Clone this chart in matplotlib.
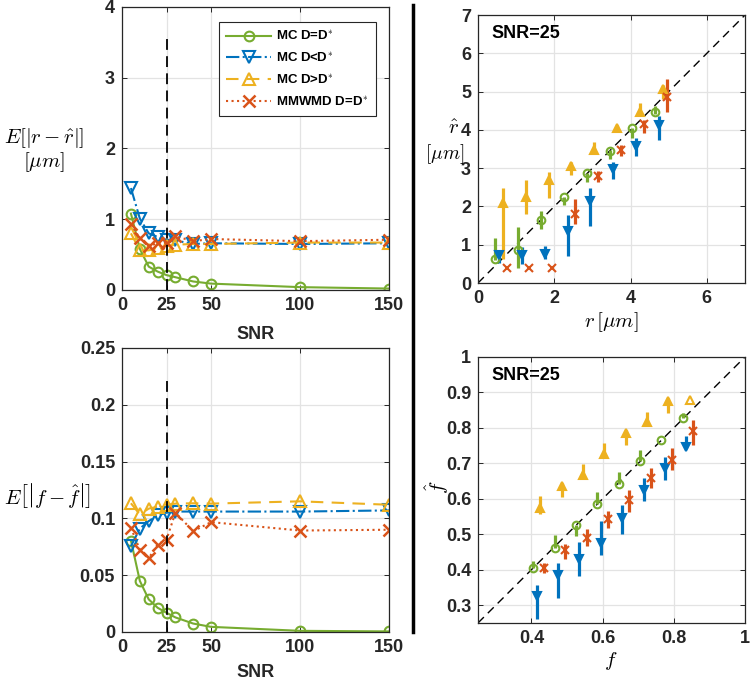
import matplotlib
matplotlib.use("Agg")
import matplotlib.pyplot as plt
from matplotlib.lines import Line2D
import numpy as np

plt.rcParams['font.family'] = ['Arial', 'Liberation Sans', 'DejaVu Sans']
plt.rcParams['mathtext.fontset'] = 'cm'

# ---------------- data ----------------
snr = [5, 10, 15, 20, 25, 30, 40, 50, 100, 150]
snr_mark = 25

# E[|r - r_hat|]
r_err_mc = [1.08, 0.58, 0.33, 0.26, 0.21, 0.18, 0.12, 0.09, 0.04, 0.02]
r_err_mc_lo = [1.44, 1.01, 0.80, 0.75, 0.71, 0.70, 0.65, 0.66, 0.65, 0.66]
r_err_mc_hi = [0.80, 0.56, 0.56, 0.59, 0.62, 0.64, 0.65, 0.65, 0.67, 0.67]
r_err_mmwmd = [0.93, 0.73, 0.62, 0.66, 0.67, 0.76, 0.69, 0.72, 0.69, 0.71]

# E[|f - f_hat|]
f_err_mc = [0.0805, 0.045, 0.0287, 0.0213, 0.0169, 0.0128, 0.0074, 0.0045, 0.0010, 0.0005]
f_err_mc_lo = [0.0755, 0.091, 0.0976, 0.1027, 0.105, 0.106, 0.106, 0.106, 0.106, 0.107]
f_err_mc_hi = [0.1133, 0.1035, 0.1086, 0.1103, 0.112, 0.113, 0.1133, 0.113, 0.115, 0.112]
f_err_mmwmd = [0.0917, 0.0725, 0.065, 0.077, 0.0814, 0.105, 0.0887, 0.0967, 0.0893, 0.090]

# r vs r_hat at SNR=25 (marker value, lower end, upper end of bar)
r_green = [0.45, 1.05, 1.65, 2.25, 2.85, 3.45, 4.05, 4.65]
rh_green = [0.63, 0.86, 1.65, 2.26, 2.88, 3.46, 4.06, 4.47]
rh_green_lo = [0.60, 0.40, 1.42, 2.04, 2.63, 3.24, 3.80, 4.41]
rh_green_hi = [1.17, 1.46, 1.88, 2.26, 2.88, 3.47, 4.06, 4.63]

r_blue = [0.55, 1.15, 1.75, 2.35, 2.95, 3.55, 4.15, 4.75]
rh_blue = [0.72, 0.73, 0.76, 1.37, 2.15, 2.97, 3.57, 4.14]
rh_blue_lo = [0.52, 0.49, 0.62, 0.71, 1.50, 2.73, 3.32, 3.73]
rh_blue_hi = [0.82, 0.93, 0.96, 1.77, 2.48, 3.17, 3.78, 4.36]

r_yellow = [0.65, 1.25, 1.85, 2.45, 3.05, 3.65, 4.25, 4.85]
rh_yellow = [2.08, 2.26, 2.68, 3.05, 3.48, 4.04, 4.47, 5.06]
rh_yellow_lo = [0.62, 1.81, 2.23, 2.83, 3.45, 3.95, 4.43, 4.82]
rh_yellow_hi = [2.48, 2.68, 2.89, 3.16, 3.68, 4.13, 4.69, 5.17]

r_red = [0.75, 1.35, 1.95, 2.55, 3.15, 3.75, 4.35, 4.95]
rh_red = [0.38, 0.38, 0.38, 1.81, 2.80, 3.47, 4.15, 4.85]
rh_red_lo = [0.38, 0.38, 0.38, 1.53, 2.65, 3.32, 3.91, 4.47]
rh_red_hi = [0.38, 0.38, 0.38, 2.19, 2.92, 3.60, 4.27, 5.32]

# f vs f_hat at SNR=25
f_green = [0.405, 0.465, 0.525, 0.585, 0.645, 0.705, 0.765, 0.825]
fh_green = [0.405, 0.461, 0.525, 0.586, 0.642, 0.707, 0.766, 0.827]
fh_green_lo = [0.405, 0.461, 0.494, 0.586, 0.642, 0.707, 0.766, 0.827]
fh_green_hi = [0.424, 0.499, 0.525, 0.618, 0.677, 0.738, 0.766, 0.841]

f_blue = [0.415, 0.475, 0.535, 0.595, 0.655, 0.715, 0.775, 0.835]
fh_blue = [0.325, 0.386, 0.429, 0.475, 0.546, 0.625, 0.686, 0.745]
fh_blue_lo = [0.262, 0.321, 0.382, 0.443, 0.502, 0.593, 0.653, 0.743]
fh_blue_hi = [0.358, 0.419, 0.477, 0.538, 0.583, 0.658, 0.717, 0.777]

f_yellow = [0.425, 0.485, 0.545, 0.605, 0.665, 0.725, 0.785, 0.845]
fh_yellow = [0.574, 0.635, 0.667, 0.727, 0.785, 0.817, 0.875, 0.878]
fh_yellow_lo = [0.558, 0.605, 0.658, 0.719, 0.752, 0.808, 0.843, 0.878]
fh_yellow_hi = [0.609, 0.644, 0.698, 0.757, 0.794, 0.846, 0.883, 0.878]

f_red = [0.435, 0.495, 0.555, 0.615, 0.675, 0.735, 0.795, 0.855]
fh_red = [0.405, 0.455, 0.490, 0.543, 0.597, 0.658, 0.710, 0.791]
fh_red_lo = [0.391, 0.431, 0.466, 0.518, 0.564, 0.630, 0.682, 0.752]
fh_red_hi = [0.419, 0.473, 0.515, 0.567, 0.624, 0.686, 0.743, 0.822]

labels = ['MC D=D$^{*}$', 'MC D<D$^{*}$', 'MC D>D$^{*}$', 'MMWMD D=D$^{*}$']

# ---------------- style ----------------
C_G = '#77AC30'
C_B = '#0072BD'
C_Y = '#EDB120'
C_R = '#D95319'
AX_C = '#262626'
GRID_C = '#e3e3e3'
TICK_FS = 13
MATH_FS = 15

fig = plt.figure(figsize=(7.5, 6.81), dpi=100)

def style_axes(ax):
    for s in ax.spines.values():
        s.set_color(AX_C)
        s.set_linewidth(0.9)
    ax.tick_params(direction='in', length=3.5, width=0.7, colors=AX_C,
                   labelsize=TICK_FS, top=True, right=True, pad=5)
    for lab in ax.get_xticklabels() + ax.get_yticklabels():
        lab.set_fontweight('bold')
        lab.set_color(AX_C)
    ax.grid(True, color=GRID_C, linewidth=0.9)
    ax.set_axisbelow(True)

ax1 = fig.add_axes([0.1627, 0.5742, 0.356, 0.4156])
ax2 = fig.add_axes([0.1627, 0.0720, 0.356, 0.4170])
ax3 = fig.add_axes([0.6373, 0.5844, 0.356, 0.3935])
ax4 = fig.add_axes([0.6373, 0.0852, 0.356, 0.3906])

def left_panel(ax, g, b, y, r, ylim, yticks, yticklabels, pad):
    ax.plot(snr, g, '-', color=C_G, lw=1.5, marker='o', ms=7, mfc='none', mew=1.5, label=labels[0])
    ax.plot(snr, b, '-.', color=C_B, lw=1.5, marker='v', ms=8, mfc='none', mew=1.5, label=labels[1])
    ax.plot(snr, y, '--', color=C_Y, lw=1.5, marker='^', ms=8, mfc='none', mew=1.5, label=labels[2],
            dashes=(6, 4))
    ax.plot(snr, r, ':', color=C_R, lw=1.5, marker='x', ms=8, mew=1.8, label=labels[3])
    ax.plot([snr_mark, snr_mark], [0, ylim[1] * 0.9], color='k', lw=1.3, dashes=(6, 3.5))
    ax.set_xlim(0, 150)
    ax.set_ylim(*ylim)
    ax.set_xticks([0, 25, 50, 100, 150])
    ax.set_yticks(yticks)
    ax.set_yticklabels(yticklabels)
    ax.set_xlabel('SNR', fontsize=13, fontweight='bold', color=AX_C, labelpad=pad)
    style_axes(ax)

left_panel(ax1, r_err_mc, r_err_mc_lo, r_err_mc_hi, r_err_mmwmd, (0, 4),
           [0, 1, 2, 3, 4], ['0', '1', '2', '3', '4'], 9)
left_panel(ax2, f_err_mc, f_err_mc_lo, f_err_mc_hi, f_err_mmwmd, (0, 0.25),
           [0, 0.05, 0.1, 0.15, 0.2, 0.25], ['0', '0.05', '0.1', '0.15', '0.2', '0.25'], 6)

leg = ax1.legend(loc='upper right', bbox_to_anchor=(0.951, 0.947), borderaxespad=0,
                 prop={'weight': 'bold', 'size': 9.5}, handlelength=3.4, fancybox=False,
                 framealpha=1, edgecolor=AX_C, borderpad=0.55, labelspacing=0.6,
                 handletextpad=0.4)
leg.get_frame().set_linewidth(0.8)

def right_panel(ax, sets, lim):
    ax.plot(lim, lim, color='k', lw=1.0, dashes=(6, 4), zorder=1)
    for xs, ys, lo, hi, col, mk, filled in sets:
        ax.vlines(xs, lo, hi, color=col, lw=2.3, zorder=2)
        ax.plot(xs, ys, linestyle='none', marker=mk, color=col, ms=5.5,
                mfc=(col if filled else 'none'), mew=1.5, zorder=3)
    ax.set_xlim(*lim)
    ax.set_ylim(*lim)
    ax.text(0.05, 0.93, 'SNR=25', transform=ax.transAxes, fontsize=13, fontweight='bold',
            color='k', va='center', ha='left')

right_panel(ax3, [
    (r_green, rh_green, rh_green_lo, rh_green_hi, C_G, 'o', False),
    (r_yellow, rh_yellow, rh_yellow_lo, rh_yellow_hi, C_Y, '^', True),
    (r_blue, rh_blue, rh_blue_lo, rh_blue_hi, C_B, 'v', True),
    (r_red, rh_red, rh_red_lo, rh_red_hi, C_R, 'x', False),
], (0, 7))
ax3.set_xticks([0, 2, 4, 6])
ax3.set_yticks([0, 1, 2, 3, 4, 5, 6, 7])
style_axes(ax3)

right_panel(ax4, [
    (f_green, fh_green, fh_green_lo, fh_green_hi, C_G, 'o', False),
    (f_yellow[:-1], fh_yellow[:-1], fh_yellow_lo[:-1], fh_yellow_hi[:-1], C_Y, '^', True),
    (f_yellow[-1:], fh_yellow[-1:], fh_yellow_lo[-1:], fh_yellow_hi[-1:], C_Y, '^', False),
    (f_blue, fh_blue, fh_blue_lo, fh_blue_hi, C_B, 'v', True),
    (f_red, fh_red, fh_red_lo, fh_red_hi, C_R, 'x', False),
], (0.25, 1))
ax4.set_xticks([0.4, 0.6, 0.8, 1])
ax4.set_xticklabels(['0.4', '0.6', '0.8', '1'])
ax4.set_yticks([0.3, 0.4, 0.5, 0.6, 0.7, 0.8, 0.9, 1])
ax4.set_yticklabels(['0.3', '0.4', '0.5', '0.6', '0.7', '0.8', '0.9', '1'])
style_axes(ax4)

# axis labels (math)
fig.text(44 / 750, 1 - 138 / 681, r'$E\left[|r-\hat{r}|\right]$', fontsize=MATH_FS,
         ha='center', va='center')
fig.text(44 / 750, 1 - 162 / 681, r'$[\mu m]$', fontsize=MATH_FS, ha='center', va='center')
fig.text(48 / 750, 1 - 495 / 681, r'$E\left[\left|f-\hat{f}\right|\right]$', fontsize=MATH_FS,
         ha='center', va='center')
fig.text(453 / 750, 1 - 128 / 681, r'$\hat{r}$', fontsize=MATH_FS, ha='center', va='center')
fig.text(445 / 750, 1 - 154 / 681, r'$[\mu m]$', fontsize=14, ha='center', va='center')
fig.text(611 / 750, 1 - 322 / 681, r'$r\,[\mu m]$', fontsize=MATH_FS, ha='center', va='center')
fig.text(611 / 750, 1 - 661 / 681, r'$f$', fontsize=MATH_FS, ha='center', va='center')
fig.text(437 / 750, 1 - 487 / 681, r'$\hat{f}$', fontsize=MATH_FS, ha='center', va='center',
         rotation=90)

# vertical separator
fig.add_artist(Line2D([413 / 750, 413 / 750], [1 - 632 / 681, 1 - 5 / 681],
                      color='k', lw=2.5, transform=fig.transFigure))

fig.savefig('out.png', dpi=100)
